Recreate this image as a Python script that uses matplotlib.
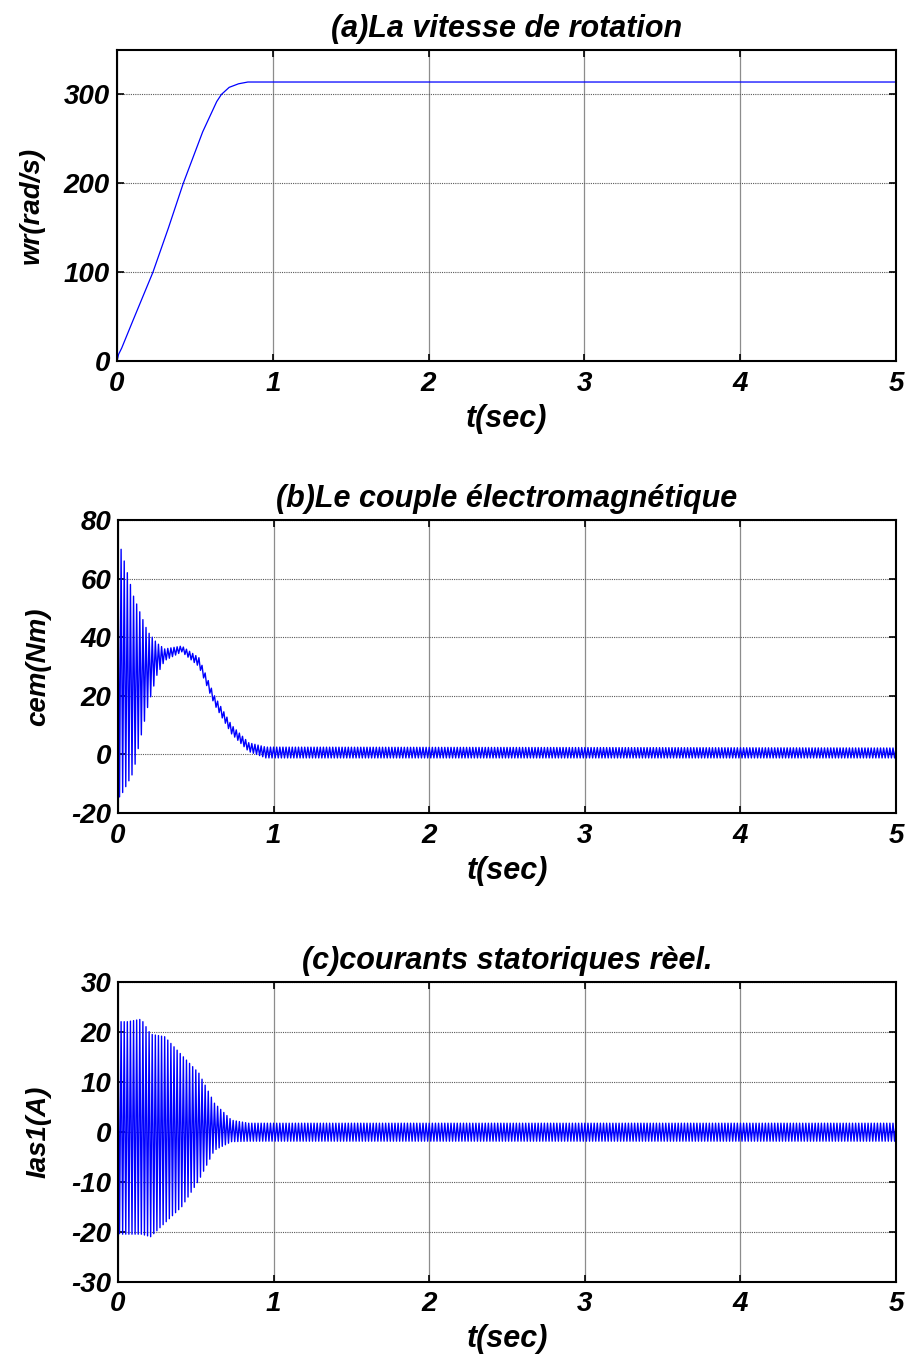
import numpy as np
import matplotlib
matplotlib.use('Agg')
import matplotlib.pyplot as plt

plt.rcParams['font.family'] = ['Liberation Sans', 'DejaVu Sans']
plt.rcParams['axes.unicode_minus'] = False

# (a) speed, points
t_w = [0, 0.01, 0.03, 0.1, 0.23, 0.33, 0.425, 0.55, 0.64, 0.67, 0.72, 0.78, 0.84, 5]
w_r = [0, 8, 15, 45, 100, 150, 200, 258, 292, 300, 308, 312, 314, 314]

# (b) torque envelope (upper / lower)
t_cem = [0, 0.02, 0.06, 0.1, 0.13, 0.19, 0.25, 0.3, 0.41, 0.52, 0.62, 0.73, 0.84, 0.95, 5]
cem_hi = [72, 70, 62, 54, 50, 42, 38, 36, 37, 33, 20, 10, 4, 2.5, 2.2]
cem_lo = [-15, -14, -10, -6, 2, 16, 27, 32, 35, 30, 17, 7, 1, -1.2, -1.2]

# (c) stator current envelope
t_ias = [0, 0.02, 0.06, 0.15, 0.21, 0.3, 0.41, 0.52, 0.62, 0.73, 0.84, 5]
ias_hi = [24, 22, 22, 22.5, 19.5, 19, 15.3, 11.7, 5.7, 2.3, 1.7, 1.7]
ias_lo = [-20.3, -20.5, -20.5, -20.5, -21, -18.3, -15, -9.7, -3.7, -2, -1.9, -1.9]

titles = ['(a)La vitesse de rotation', '(b)Le couple électromagnétique',
          '(c)courants statoriques rèel.']
ylabels = ['wr(rad/s)', 'cem(Nm)', 'Ias1(A)']
ylims = [(0, 350), (-20, 80), (-30, 30)]
yticks = [[0, 100, 200, 300], [-20, 0, 20, 40, 60, 80], [-30, -20, -10, 0, 10, 20, 30]]
xticks = [0, 1, 2, 3, 4, 5]


def zigzag(t, hi, lo, step=0.01):
    # alternate between the read envelopes at the sample step
    ts = np.arange(0, 5 + step / 2, step)
    up = np.interp(ts, t, hi)
    dn = np.interp(ts, t, lo)
    y = np.where(np.arange(len(ts)) % 2 == 0, up, dn)
    return ts, y


fig = plt.figure(figsize=(9.09, 13.58), dpi=100)
boxes = [[0.1287, 0.7338, 0.857, 0.2294],
         [0.1298, 0.4013, 0.856, 0.2158],
         [0.1298, 0.0562, 0.856, 0.2209]]

for i, box in enumerate(boxes):
    ax = fig.add_axes(box)
    if i == 0:
        ax.plot(t_w, w_r, color='#0000ff', lw=0.9)
    elif i == 1:
        ts, y = zigzag(t_cem, cem_hi, cem_lo)
        ax.plot(ts, y, color='#0000ff', lw=1.0)
    else:
        ts, y = zigzag(t_ias, ias_hi, ias_lo)
        ax.plot(ts, y, color='#0000ff', lw=1.0)
    ax.set_xlim(0, 5)
    ax.set_ylim(*ylims[i])
    ax.set_xticks(xticks)
    ax.set_yticks(yticks[i])
    ax.xaxis.grid(True, color='0.55', lw=0.9, ls='-')
    ax.yaxis.grid(True, color='0.35', lw=0.8, ls=(0, (1, 1)))
    ax.set_axisbelow(True)
    for s in ax.spines.values():
        s.set_linewidth(1.5)
    ax.tick_params(direction='in', length=5, width=1.2, top=True, right=True,
                   labelsize=20)
    ax.tick_params(axis='x', pad=7)
    ax.tick_params(axis='y', pad=5)
    for lab in ax.get_xticklabels() + ax.get_yticklabels():
        lab.set_fontweight('bold')
        lab.set_fontstyle('italic')
    ax.set_title(titles[i], fontsize=22, fontweight='bold', fontstyle='italic', pad=9)
    ax.set_xlabel('t(sec)', fontsize=22, fontweight='bold', fontstyle='italic', labelpad=5)
    ax.set_ylabel(ylabels[i], fontsize=20, fontweight='bold', fontstyle='italic', labelpad=14)

plt.savefig('out.png', dpi=100)
